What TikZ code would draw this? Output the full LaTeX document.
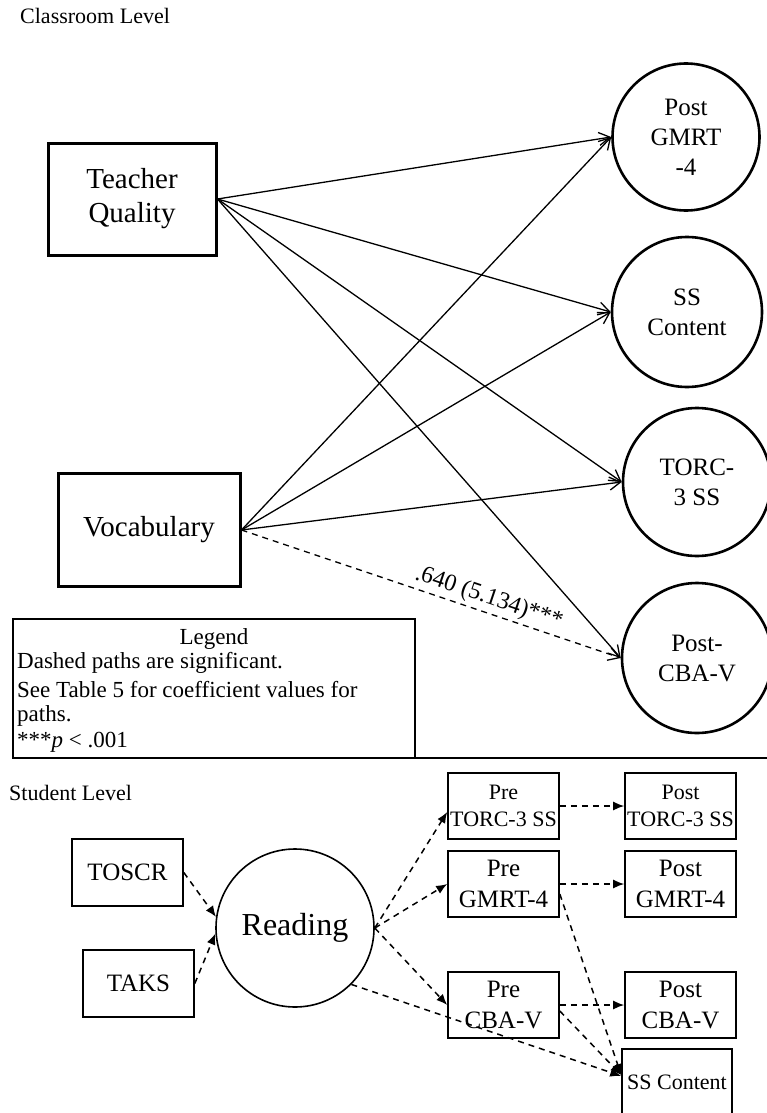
\documentclass[tikz,border=0pt]{standalone}
\usepackage{fontspec}
\setmainfont{Liberation Serif}
\usetikzlibrary{arrows.meta}
\begin{document}
\begin{tikzpicture}[x=1pt,y=-1pt,
  cbox/.style={draw, line width=3pt, rectangle, inner sep=0pt, align=center, font=\fontsize{29}{34}\selectfont},
  ccirc/.style={draw, line width=2.6pt, circle, inner sep=0pt, align=center, font=\fontsize{25}{30}\selectfont},
  sbox/.style={draw, line width=1.6pt, rectangle, inner sep=0pt, minimum width=111pt, minimum height=66pt, align=center},
  scirc/.style={draw, line width=1.6pt, circle, inner sep=0pt, minimum size=158pt, font=\fontsize{32}{38}\selectfont},
  carr/.style={line width=1.3pt, -{Straight Barb[length=11pt,width=13pt,line width=1.3pt]}},
  sarr/.style={line width=1.5pt, dash pattern=on 6pt off 5pt, -{Latex[length=11pt,width=9pt]}},
  lbl/.style={font=\fontsize{22}{26}\selectfont, inner sep=0pt},
  legtxt/.style={font=\fontsize{23}{27}\selectfont, inner sep=0pt},
  fsmall/.style={font=\fontsize{22}{27}\selectfont},
  fmid/.style={font=\fontsize{25}{31}\selectfont}
]
\useasboundingbox (0,0) rectangle (767,1113);

% Classroom level
\node[lbl, anchor=west] (classlbl) at (20,16) {Classroom Level};
\node[cbox, minimum width=168pt, minimum height=112pt] (tq) at (132,199) {Teacher\\Quality};
\node[cbox, minimum width=182pt, minimum height=113pt] (voc) at (149,530) {Vocabulary};

\node[ccirc, minimum size=147pt] (gmrt) at (686,137) {Post\\GMRT\\-4};
\node[ccirc, minimum size=150pt] (ssc) at (687,312) {SS\\Content};
\node[ccirc, minimum size=148pt] (torc) at (697,482) {TORC-\\3 SS};
\node[ccirc, minimum size=150pt] (cbav) at (697,658) {Post-\\CBA-V};

\draw[carr] (tq.east) -- (gmrt.west);
\draw[carr] (tq.east) -- (ssc.west);
\draw[carr] (tq.east) -- (torc.west);
\draw[carr] (tq.east) -- (cbav.west);
\draw[carr] (voc.east) -- (gmrt.west);
\draw[carr] (voc.east) -- (ssc.west);
\draw[carr] (voc.east) -- (torc.west);
\draw[carr, dash pattern=on 6pt off 5pt] (voc.east) -- node[sloped, above=3pt, pos=0.64, font=\fontsize{24}{28}\selectfont, inner sep=0pt] (coef) {.640 (5.134)***} (cbav.west);

% Legend
\node[draw, line width=1.8pt, rectangle, minimum width=402pt, minimum height=139pt, inner sep=0pt] (legend) at (214,688.5) {};
\node[legtxt] (leghead) at (214,639) {Legend};
\node[legtxt, anchor=west] (leg1) at (17,663) {Dashed paths are significant.};
\node[legtxt, anchor=west] (leg2) at (17,690) {See Table 5 for coefficient values for};
\node[legtxt, anchor=west] (leg3) at (17,716) {paths.};
\node[legtxt, anchor=west] (leg4) at (17,742) {***\textit{p} < .001};

\coordinate (divL) at (13,758);
\coordinate (divR) at (767,758);
\draw[line width=1.8pt] (divL) -- (divR);

% Student level
\node[lbl, anchor=west] (studlbl) at (9,793) {Student Level};
\node[sbox, fmid, minimum height=67pt] (toscr) at (127.5,872.5) {TOSCR};
\node[sbox, fmid, minimum height=67pt] (taks) at (138.5,983.5) {TAKS};
\node[scirc] (read) at (295,928) {Reading};

\node[sbox, fsmall] (pretorc) at (503.5,806) {Pre\\TORC-3 SS};
\node[sbox, fsmall] (posttorc) at (680.5,806) {Post\\TORC-3 SS};
\node[sbox, fmid] (pregmrt) at (503.5,884) {Pre\\GMRT-4};
\node[sbox, fmid] (postgmrt) at (680.5,884) {Post\\GMRT-4};
\node[sbox, fmid] (precba) at (503.5,1005) {Pre\\CBA-V};
\node[sbox, fmid] (postcba) at (680.5,1005) {Post\\CBA-V};
\node[sbox, fsmall, minimum width=110pt] (sscont) at (677,1082) {SS Content};

\coordinate (readin1) at (read.172);
\coordinate (readin2) at (read.184);
\draw[sarr] (toscr.east) -- (readin1);
\draw[sarr] (taks.east) -- (readin2);

\draw[sarr] (read.east) -- ([yshift=-6pt]pretorc.west);
\draw[sarr] (read.east) -- (pregmrt.west);
\draw[sarr] (read.east) -- (precba.west);
\draw[sarr] (read.-45) -- ([yshift=6pt]sscont.west);

\draw[sarr] (pretorc.east) -- (posttorc.west);
\draw[sarr] (pregmrt.east) -- (postgmrt.west);
\draw[sarr] (precba.east) -- (postcba.west);
\draw[sarr] ([yshift=-10pt]pregmrt.east) -- ([yshift=7pt]sscont.west);
\draw[sarr] ([yshift=-6pt]precba.east) -- ([yshift=7pt]sscont.west);
\end{tikzpicture}
\end{document}
